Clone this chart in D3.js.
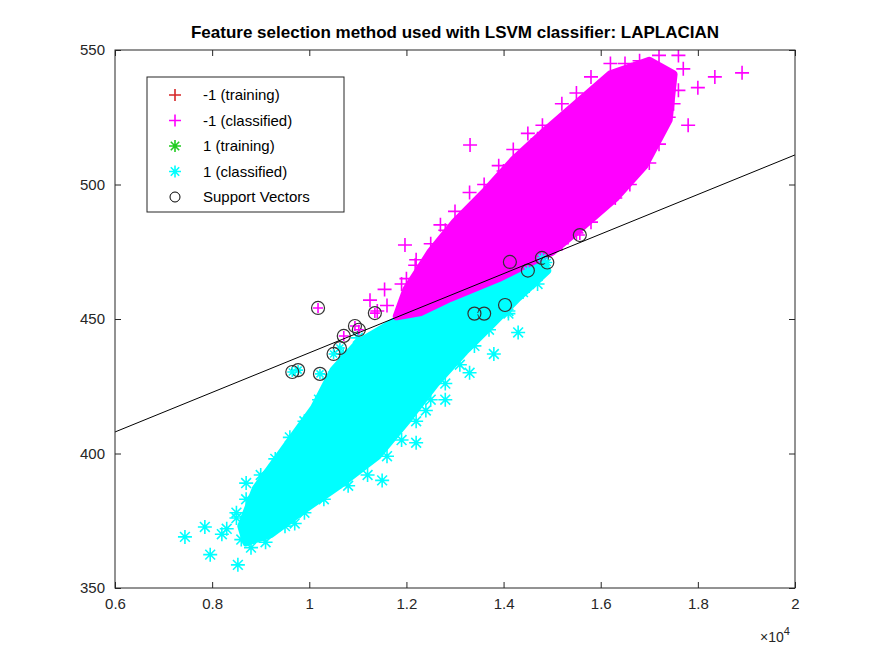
<!DOCTYPE html>
<html><head><meta charset="utf-8">
<script src="https://cdn.jsdelivr.net/npm/d3@7"></script>
<style>body{margin:0;background:#fff;font-family:"Liberation Sans",Arial,sans-serif}</style>
</head><body><svg id="c" width="882" height="662"></svg>
<script>
// dense regions of each class (outline vertices, x in 1e4 units)
var magentaCloud = [[1.18,451],[1.20,461],[1.25,475],[1.30,486],[1.36,497],[1.42,509],[1.48,519],[1.55,530],[1.62,541],[1.70,546],[1.75,541],[1.74,524],[1.69,507],[1.63,495],[1.56,484],[1.50,475],[1.39,465.2],[1.29,457.8],[1.23,452.6]];
var cyanCloud = [[1.18,449.6],[1.29,457.1],[1.39,464.5],[1.48,471.5],[1.49,468],[1.43,458],[1.37,447],[1.32,438],[1.26,426],[1.20,412],[1.14,399],[1.06,388],[0.98,378],[0.92,370],[0.87,367],[0.86,373],[0.89,387],[0.95,402],[1.01,417],[1.05,431],[1.10,441]];
var magentaPts = [[1.331,514.7],[1.197,477.5],[1.835,540],[1.891,541.5],[1.218,470],[1.29,473.8],[1.125,457],[1.155,461],[1.80,536],[1.78,522],[1.68,546],[1.60,530],[1.28,483],[1.37,490],[1.24,466],[1.19,463],[1.72,548],[1.70,540],[1.75,530],[1.65,545],[1.23,458],[1.26,462],[1.31,486],[1.40,505],[1.47,517],[1.62,538],
  [1.20,465],[1.22,472],[1.25,478],[1.27,485],[1.30,490],[1.33,497],[1.36,500],[1.39,507],[1.42,513],[1.45,519],[1.48,522],[1.52,530],[1.55,534],[1.58,540],[1.62,545],
  [1.77,543],[1.76,535],[1.74,525],[1.72,515],[1.70,508],[1.66,500],[1.63,495],[1.58,486],[1.55,482],[1.52,478],[1.16,455],[1.14,453],[1.21,456],[1.76,548],[1.73,538]];
var cyanPts = [[0.744,369],[0.796,362.4],[0.853,358.6],[0.785,372.7],[0.90,384],[0.85,378],[0.97,374],[0.93,380],[1.38,437],[1.43,445],[1.33,430],[1.22,404],[1.15,390],[1.08,395],[0.99,395],[1.01,405],[1.06,415],[0.82,370],[0.87,389],[1.28,420],[1.34,444],[1.47,463],[1.41,452],[1.24,416],
  [1.47,466],[1.44,460],[1.41,453],[1.37,446],[1.34,440],[1.31,433],[1.28,426],[1.25,420],[1.22,412],[1.19,405],[1.16,399],[1.12,392],[1.08,388],[1.03,383],[0.99,378],[0.95,373],[0.91,367],[0.88,365],
  [1.10,443],[1.07,437],[1.04,428],[1.02,420],[0.99,412],[0.96,406],[0.93,398],[0.90,392],[0.87,383],[0.85,376],[0.83,372],[0.86,368]];
// support vectors: x, y, class
var supportVecs = [[1.018,454.1,-1],[1.071,443.7,-1],[1.094,447.4,-1],[1.102,446,-1],[0.977,431,1],[0.965,430.3,1],[1.022,429.6,1],[1.135,452.2,-1],[1.063,439.2,1],[1.557,481.2,-1],[1.479,472.7,1],[1.49,471,1],[1.413,471.2,-1],[1.403,455.2,1],[1.36,452,1],[1.34,452,1],[1.45,468,1],[1.05,437,1]];
var lineX = [0.6, 2.0], lineY = [408, 511];
var xTicks = [0.6,0.8,1,1.2,1.4,1.6,1.8,2], yTicks = [350,400,450,500,550];
var legendItems = [["-1 (training)","plus","#d62728"],["-1 (classified)","plus","#ff00ff"],["1 (training)","star","#22cc22"],["1 (classified)","star","#00ffff"],["Support Vectors","circle","#000"]];

var svg = d3.select("#c");
var L=115,R=795,T=50,B=588;
var x = d3.scaleLinear().domain([0.6,2]).range([L,R]);
var y = d3.scaleLinear().domain([350,550]).range([B,T]);
var g = svg.append("g");
g.append("defs").append("clipPath").attr("id","cp").append("rect").attr("x",L).attr("y",T).attr("width",R-L).attr("height",B-T);
var plot = g.append("g").attr("clip-path","url(#cp)");

function plus(sel,c,s){sel.append("path").attr("d","M"+(-s)+",0H"+s+"M0,"+(-s)+"V"+s).attr("stroke",c).attr("stroke-width",1.6).attr("fill","none");}
function star(sel,c,s){var d=s*0.7;sel.append("path").attr("d","M"+(-s)+",0H"+s+"M0,"+(-s)+"V"+s+"M"+(-d)+","+(-d)+"L"+d+","+d+"M"+(-d)+","+d+"L"+d+","+(-d)).attr("stroke",c).attr("stroke-width",1.6).attr("fill","none");}
function at(d){return plot.append("g").attr("transform","translate("+x(d[0])+","+y(d[1])+")");}

var poly = function(p){return "M"+p.map(function(d){return x(d[0])+","+y(d[1]);}).join("L")+"Z";};
plot.append("path").attr("d",poly(cyanCloud)).attr("fill","#00ffff").attr("stroke","#00ffff").attr("stroke-width",8).attr("stroke-linejoin","round");
cyanPts.forEach(function(d){star(at(d),"#00ffff",7);});
plot.append("path").attr("d",poly(magentaCloud)).attr("fill","#ff00ff").attr("stroke","#ff00ff").attr("stroke-width",8).attr("stroke-linejoin","round");
magentaPts.forEach(function(d){plus(at(d),"#ff00ff",7);});
supportVecs.forEach(function(d){
  var s = at(d);
  if(d[2]<0) plus(s,"#ff00ff",5); else star(s,"#00ffff",5);
  s.append("circle").attr("r",6.5).attr("fill","none").attr("stroke","#333").attr("stroke-width",1.2);
});
plot.append("line").attr("x1",x(lineX[0])).attr("y1",y(lineY[0])).attr("x2",x(lineX[1])).attr("y2",y(lineY[1])).attr("stroke","#000").attr("stroke-width",1);

g.append("rect").attr("x",L).attr("y",T).attr("width",R-L).attr("height",B-T).attr("fill","none").attr("stroke","#262626");
g.append("g").attr("transform","translate(0,"+B+")").call(d3.axisBottom(x).tickValues(xTicks).tickFormat(d3.format("")).tickSizeInner(-6).tickSizeOuter(0).tickPadding(10));
g.append("g").attr("transform","translate("+L+",0)").call(d3.axisLeft(y).tickValues(yTicks).tickSizeInner(-6).tickSizeOuter(0).tickPadding(10));
g.append("g").attr("transform","translate(0,"+T+")").call(d3.axisTop(x).tickValues(xTicks).tickFormat("").tickSizeInner(-6).tickSizeOuter(0));
g.append("g").attr("transform","translate("+R+",0)").call(d3.axisRight(y).tickValues(yTicks).tickFormat("").tickSizeInner(-6).tickSizeOuter(0));
g.selectAll(".domain").remove();
g.selectAll(".tick line").attr("stroke","#262626");
g.selectAll(".tick text").attr("font-size",15).attr("fill","#262626").attr("font-family","Liberation Sans, Arial");
var ex = svg.append("text").attr("x",760).attr("y",642).attr("font-size",14).attr("fill","#262626");
ex.append("tspan").text("×10");
ex.append("tspan").attr("dy",-7).attr("font-size",11).text("4");
svg.append("text").attr("x",(L+R)/2).attr("y",38).attr("text-anchor","middle").attr("font-size",17).attr("font-weight","bold").text("Feature selection method used with LSVM classifier: LAPLACIAN");

var lg = svg.append("g").attr("transform","translate(147,77)");
lg.append("rect").attr("width",197).attr("height",135).attr("fill","#fff").attr("stroke","#262626");
legendItems.forEach(function(d,i){
  var row = lg.append("g").attr("transform","translate(28,"+(18+i*25.5)+")");
  if(d[1]=="plus") plus(row,d[2],6); else if(d[1]=="star") star(row,d[2],6);
  else row.append("circle").attr("r",5).attr("fill","none").attr("stroke","#000");
  lg.append("text").attr("x",56).attr("y",18+i*25.5+5).attr("font-size",15).attr("fill","#000").text(d[0]);
});
</script></body></html>
